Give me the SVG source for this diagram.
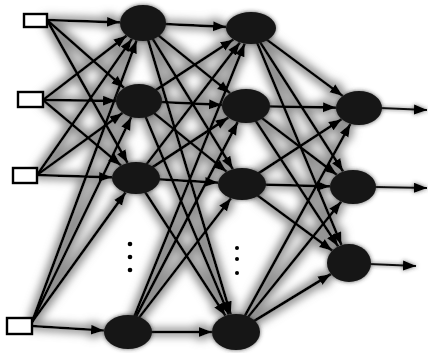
<svg xmlns="http://www.w3.org/2000/svg" width="428" height="353" viewBox="0 0 428 353">
<style>
.wire line{stroke:#000;stroke-width:2.7;marker-end:url(#ah)}
.out line{stroke:#111;stroke-width:2;marker-end:url(#ah)}
.node ellipse{fill:#141414}
.inp rect{fill:#fff;stroke:#000;stroke-width:2.4}
.dot{fill:#000}
</style>
<defs>
<marker id="ah" markerUnits="userSpaceOnUse" markerWidth="14" markerHeight="11" refX="13" refY="5" orient="auto">
<path d="M0,0 L13,5 L0,10 Z" fill="#000"/>
</marker>
<filter id="halo" x="-10%" y="-10%" width="120%" height="120%">
<feMorphology in="SourceAlpha" operator="dilate" radius="3" result="d"/>
<feGaussianBlur in="d" stdDeviation="4" result="b"/>
<feFlood flood-color="#8a8a8a" flood-opacity="0.95"/>
<feComposite in2="b" operator="in" result="g"/>
<feMerge><feMergeNode in="g"/><feMergeNode in="SourceGraphic"/></feMerge>
</filter>
<filter id="fuzz" x="-30%" y="-30%" width="160%" height="160%">
<feGaussianBlur in="SourceAlpha" stdDeviation="2" result="b"/>
<feFlood flood-color="#333" flood-opacity="0.8"/>
<feComposite in2="b" operator="in" result="g"/>
<feMerge><feMergeNode in="g"/><feMergeNode in="SourceGraphic"/></feMerge>
</filter>
</defs>
<rect width="428" height="353" fill="#fff"/>
<g id="connectors">
<g class="wire" filter="url(#halo)">
<line x1="47" y1="20" x2="120" y2="22.3"/>
<line x1="47" y1="20" x2="124.2" y2="88"/>
<line x1="47" y1="20" x2="127.6" y2="163"/>
<line x1="43" y1="100" x2="126.6" y2="35.6"/>
<line x1="43" y1="100" x2="116" y2="100.8"/>
<line x1="43" y1="100" x2="121.1" y2="165.5"/>
<line x1="37" y1="175" x2="132" y2="38.8"/>
<line x1="37" y1="175" x2="122.6" y2="112.9"/>
<line x1="37" y1="175" x2="112" y2="177.3"/>
<line x1="32" y1="322" x2="136.6" y2="40.3"/>
<line x1="32" y1="322" x2="131.3" y2="117"/>
<line x1="32" y1="322" x2="125.6" y2="192.4"/>
<line x1="32" y1="326" x2="104" y2="330.5"/>
<line x1="143" y1="23" x2="226.1" y2="26.8"/>
<line x1="139" y1="101" x2="233.5" y2="39.4"/>
<line x1="136" y1="178" x2="240" y2="42.4"/>
<line x1="128" y1="332" x2="244.7" y2="43.5"/>
<line x1="143" y1="23" x2="230.2" y2="93.2"/>
<line x1="139" y1="101" x2="222" y2="104.9"/>
<line x1="136" y1="178" x2="228.4" y2="117.5"/>
<line x1="128" y1="332" x2="237.7" y2="122"/>
<line x1="143" y1="23" x2="232.9" y2="169.2"/>
<line x1="139" y1="101" x2="226.7" y2="171.7"/>
<line x1="136" y1="178" x2="218.1" y2="182.6"/>
<line x1="128" y1="332" x2="231" y2="198.2"/>
<line x1="143" y1="23" x2="230.7" y2="314.4"/>
<line x1="139" y1="101" x2="228.8" y2="314.8"/>
<line x1="136" y1="178" x2="225.5" y2="315.8"/>
<line x1="128" y1="332" x2="212" y2="332"/>
<line x1="251" y1="28" x2="342.8" y2="96"/>
<line x1="246" y1="106" x2="336" y2="107.6"/>
<line x1="242" y1="184" x2="341.7" y2="119.2"/>
<line x1="236" y1="332" x2="350.4" y2="123.8"/>
<line x1="251" y1="28" x2="343.1" y2="171.6"/>
<line x1="246" y1="106" x2="336.9" y2="174.8"/>
<line x1="242" y1="184" x2="330" y2="186.4"/>
<line x1="236" y1="332" x2="341.2" y2="201.6"/>
<line x1="251" y1="28" x2="341.5" y2="245.1"/>
<line x1="246" y1="106" x2="338.2" y2="246.5"/>
<line x1="242" y1="184" x2="332.3" y2="250.7"/>
<line x1="236" y1="332" x2="331" y2="274"/>
</g>
<g class="out" filter="url(#fuzz)">
<line x1="380" y1="108" x2="427" y2="110"/>
<line x1="374" y1="187" x2="427" y2="188"/>
<line x1="369" y1="264" x2="416" y2="266"/>
</g>
</g>
<g id="inputs" class="inp">
<g id="in1"><rect x="24" y="14" width="23" height="13"/></g>
<g id="in2"><rect x="18" y="92" width="25" height="15"/></g>
<g id="in3"><rect x="13" y="168" width="24" height="15"/></g>
<g id="in4"><rect x="7" y="318" width="25" height="16"/></g>
</g>
<g class="node" filter="url(#fuzz)">
<g id="h1a"><ellipse cx="143" cy="23" rx="23" ry="18"/></g>
<g id="h1b"><ellipse cx="139" cy="101" rx="23" ry="17"/></g>
<g id="h1c"><ellipse cx="136" cy="178" rx="24" ry="16"/></g>
<g id="h1d"><ellipse cx="128" cy="332" rx="24" ry="17"/></g>
<g id="h2a"><ellipse cx="251" cy="28" rx="25" ry="16"/></g>
<g id="h2b"><ellipse cx="246" cy="106" rx="24" ry="17"/></g>
<g id="h2c"><ellipse cx="242" cy="184" rx="24" ry="16"/></g>
<g id="h2d"><ellipse cx="236" cy="332" rx="24" ry="18"/></g>
<g id="o1"><ellipse cx="359" cy="108" rx="23" ry="17"/></g>
<g id="o2"><ellipse cx="353" cy="187" rx="23" ry="17"/></g>
<g id="o3"><ellipse cx="349" cy="263" rx="22" ry="19"/></g>
</g>
<g id="ellipsis1">
<circle class="dot" cx="130" cy="244" r="2.3"/>
<circle class="dot" cx="130" cy="257" r="2.3"/>
<circle class="dot" cx="130" cy="270" r="2.3"/>
</g>
<g id="ellipsis2">
<circle class="dot" cx="237" cy="248" r="2"/>
<circle class="dot" cx="237" cy="259" r="2"/>
<circle class="dot" cx="237" cy="273" r="2"/>
</g>
</svg>
